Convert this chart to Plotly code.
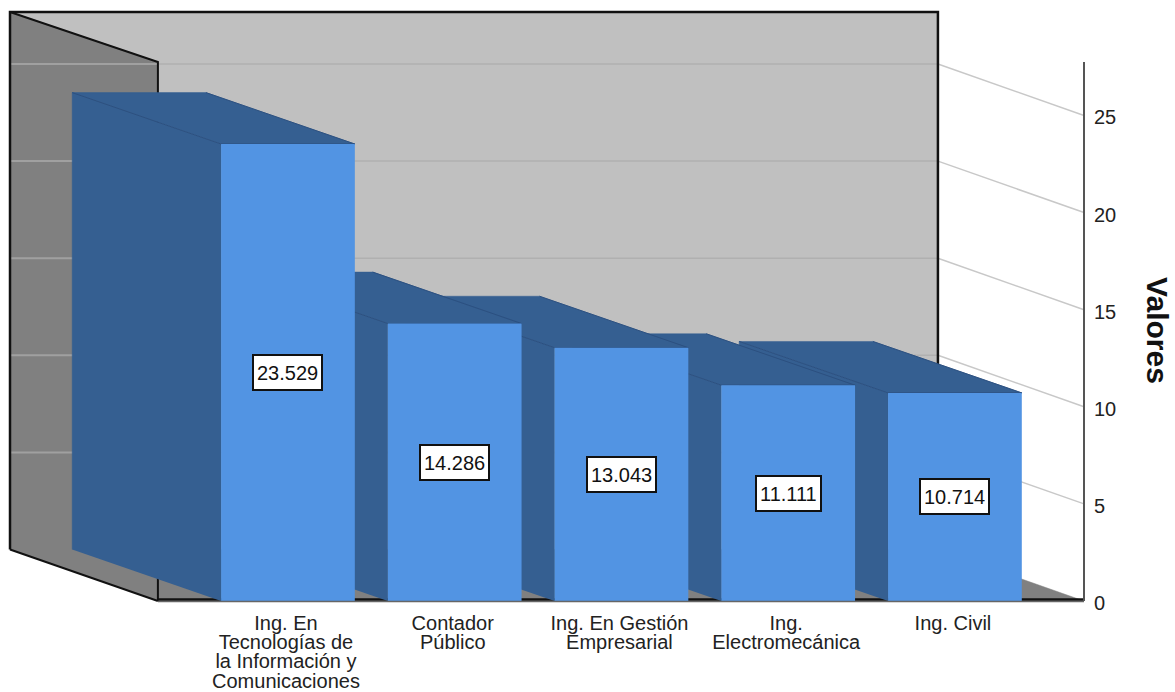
import plotly.graph_objects as go

# ---- data ----
categories = [
    "Ing. En<br>Tecnologías de<br>la Información y<br>Comunicaciones",
    "Contador<br>Público",
    "Ing. En Gestión<br>Empresarial",
    "Ing.<br>Electromecánica",
    "Ing. Civil",
]
values = [23.529, 14.286, 13.043, 11.111, 10.714]
value_labels = ["23.529", "14.286", "13.043", "11.111", "10.714"]
y_ticks = [0, 5, 10, 15, 20, 25]
wall_grid = [5, 10, 15, 20, 25]

# ---- projection / style ----
X_RANGE = [-1.703, 4.786]
Y_RANGE = [-0.103, 30.74]
X_MIN, X_MAX = -0.78, 4.774   # front floor edge
Y_MAX = 27.755                # top of the front plane
DX_L, DX_R = 0.887, 0.876     # depth offset of the walls, in axis units
DX_BAR = 0.893                # depth offset of the bars
DY = 2.65
TOP = 30.33                   # top of the back wall
BAR_W = 0.802
FRONT, SIDE, EDGE = "#5294E3", "#355F91", "#2C5080"
FLOOR, BACK = "#808080", "#C0C0C0"
FONT = "Liberation Sans"

fig = go.Figure()


def poly(xs, ys, color, lw=0.5):
    fig.add_trace(go.Scatter(x=xs, y=ys, mode="lines", fill="toself", fillcolor=color,
                             line=dict(color=color, width=lw),
                             hoverinfo="skip", showlegend=False))


def seg(xs, ys, color, lw, overlay=False):
    fig.add_trace(go.Scatter(x=xs, y=ys, mode="lines", line=dict(color=color, width=lw),
                             xaxis="x2" if overlay else "x", yaxis="y2" if overlay else "y",
                             hoverinfo="skip", showlegend=False))


bx0, bx1 = X_MIN - DX_L, X_MAX - DX_R

# walls and floor
poly([bx0, bx1, bx1, bx0], [DY, DY, TOP, TOP], BACK)
poly([X_MIN, X_MAX, bx1, bx0], [0, 0, DY, DY], FLOOR)
poly([X_MIN, X_MIN, bx0, bx0], [0, Y_MAX, TOP, DY], FLOOR)

# gridlines on left wall, back wall and the open right side
for v in wall_grid:
    seg([bx0, X_MIN], [v + DY, v + DY], "#A0A0A0", 2)
    seg([X_MIN, bx1], [v + DY, v + DY], "#B0B0B0", 1.5)
    seg([bx1, X_MAX], [v + DY, v], "#C8C8C8", 1.5)

# wall outlines
seg([bx0, bx0, bx1, bx1], [DY, TOP, TOP, DY], "#111111", 2.5)
seg([bx0, X_MIN, X_MIN], [TOP, Y_MAX, 0], "#111111", 2)
seg([bx0, X_MIN], [DY, 0], "#111111", 2)
seg([X_MIN, X_MAX], [0.08, 0.08], "#111111", 2.5)

# side and top faces, painted right to left
for i in reversed(range(len(values))):
    v = values[i]
    l, r = i - BAR_W / 2, i + BAR_W / 2
    poly([l, l, l - DX_BAR, l - DX_BAR], [0, v, v + DY, DY], SIDE)
    poly([l, r, r - DX_BAR, l - DX_BAR], [v, v, v + DY, v + DY], SIDE)
    seg([l - DX_BAR, l, r, r - DX_BAR], [v + DY, v, v, v + DY], EDGE, 1)

# front faces on an overlaid axis pair so they cover all the depth faces
fig.add_trace(go.Bar(x=list(range(len(values))), y=values, width=BAR_W, xaxis="x2", yaxis="y2",
                     marker=dict(color=FRONT, line=dict(width=0)), hoverinfo="skip",
                     showlegend=False))

# visible axis lines of the front plane
seg([X_MIN, X_MAX], [-0.03, -0.03], "#666666", 1.5, overlay=True)
seg([X_MAX, X_MAX], [0, Y_MAX], "#555555", 2, overlay=True)

annotations = []
for i, v in enumerate(values):
    annotations.append(dict(x=i, y=v / 2, xref="x", yref="y", text=value_labels[i], showarrow=False,
                            font=dict(family=FONT, size=20, color="#111111"), bgcolor="white",
                            bordercolor="#111111", borderwidth=2, borderpad=3, height=27))
annotations.append(dict(x=1.0665, y=0.454, xref="paper", yref="paper", xanchor="center", yanchor="middle",
                        text="<b>Valores</b>", showarrow=False, textangle=90,
                        font=dict(family=FONT, size=30, color="#111111")))

fig.update_layout(
    width=1175, height=692, autosize=False, barmode="overlay",
    margin=dict(l=4, r=89, t=4, b=89, autoexpand=False),
    paper_bgcolor="white", plot_bgcolor="rgba(0,0,0,0)", showlegend=False,
    annotations=annotations,
    xaxis=dict(range=X_RANGE, showgrid=False, zeroline=False, ticks="", tickangle=0, automargin=False,
               tickvals=list(range(len(categories))), ticktext=categories,
               ticklabelstandoff=6, ticklabelshift=-2,
               tickfont=dict(family=FONT, size=20, color="#222222")),
    yaxis=dict(range=Y_RANGE, side="right", tickvals=y_ticks, showgrid=False, zeroline=False,
               automargin=False, ticks="", ticklabelstandoff=7, ticklabelshift=2,
               tickfont=dict(family=FONT, size=20, color="#222222")),
    xaxis2=dict(range=X_RANGE, overlaying="x", anchor="y2", showgrid=False, zeroline=False,
                showticklabels=False, ticks="", automargin=False),
    yaxis2=dict(range=Y_RANGE, overlaying="y", anchor="x2", showgrid=False, zeroline=False,
                showticklabels=False, ticks="", automargin=False),
)

# reset the page margin, and tighten the category labels' line spacing to the reference's
post = """
document.body.style.margin='0';
document.documentElement.style.overflow='hidden';
document.querySelectorAll('.xtick text tspan.line').forEach(function(t){
  t.setAttribute('dy', (parseFloat(t.getAttribute('dy')) * 0.74) + 'em');
});
"""
fig.write_html("out.html", config=dict(displayModeBar=False), post_script=post)
